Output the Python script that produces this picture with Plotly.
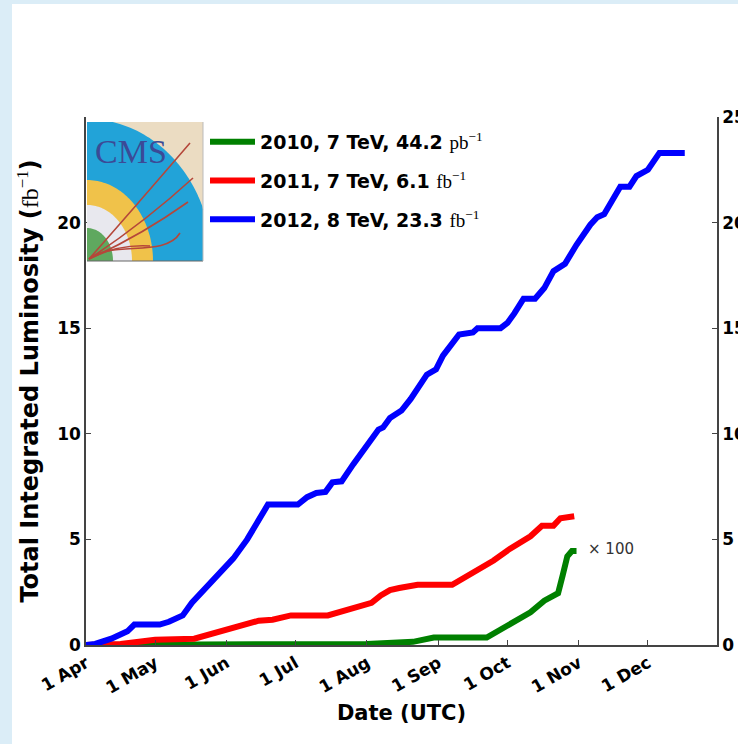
import math
import plotly.graph_objects as go

# ---------------- data ----------------
dates_2012 = ["2012-04-01", "2012-04-05", "2012-04-12", "2012-04-17", "2012-04-19", "2012-04-22",
              "2012-05-03", "2012-05-07", "2012-05-11", "2012-05-13", "2012-05-17", "2012-05-23",
              "2012-05-29", "2012-06-04", "2012-06-10", "2012-06-15", "2012-06-19", "2012-07-02",
              "2012-07-06", "2012-07-10", "2012-07-14", "2012-07-17", "2012-07-21", "2012-07-26",
              "2012-08-01", "2012-08-06", "2012-08-08", "2012-08-11", "2012-08-16", "2012-08-20",
              "2012-08-27", "2012-08-31", "2012-09-03", "2012-09-10", "2012-09-16", "2012-09-18",
              "2012-09-28", "2012-10-01", "2012-10-04", "2012-10-08", "2012-10-13", "2012-10-17",
              "2012-10-21", "2012-10-26", "2012-10-31", "2012-11-06", "2012-11-09", "2012-11-12",
              "2012-11-19", "2012-11-23", "2012-11-26", "2012-12-01", "2012-12-06", "2012-12-17"]
lumi_2012 = [0.0, 0.05, 0.3, 0.6, 0.65, 0.97,
             0.97, 1.1, 1.3, 1.4, 2.0, 2.7,
             3.4, 4.1, 5.0, 5.9, 6.65, 6.65,
             7.0, 7.2, 7.25, 7.7, 7.75, 8.55,
             9.5, 10.2, 10.3, 10.75, 11.1, 11.65,
             12.8, 13.05, 13.7, 14.7, 14.8, 15.0,
             15.0, 15.25, 15.7, 16.4, 16.4, 16.9,
             17.7, 18.05, 18.95, 19.9, 20.25, 20.4,
             21.7, 21.7, 22.2, 22.5, 23.3, 23.3]

dates_2011 = ["2012-04-01", "2012-04-16", "2012-04-24", "2012-05-01", "2012-05-18", "2012-05-23",
              "2012-06-01", "2012-06-08", "2012-06-15", "2012-06-21", "2012-06-29", "2012-07-15",
              "2012-07-20", "2012-07-29", "2012-08-03", "2012-08-07", "2012-08-11", "2012-08-15",
              "2012-08-23", "2012-09-07", "2012-09-12", "2012-09-16", "2012-09-22", "2012-09-25",
              "2012-10-02", "2012-10-06", "2012-10-11", "2012-10-16", "2012-10-21", "2012-10-24",
              "2012-10-30"]
lumi_2011 = [0.0, 0.05, 0.15, 0.25, 0.3, 0.45,
             0.7, 0.9, 1.15, 1.2, 1.4, 1.4,
             1.55, 1.85, 2.0, 2.35, 2.6, 2.7,
             2.85, 2.85, 3.15, 3.45, 3.75, 4.0,
             4.55, 4.8, 5.15, 5.65, 5.65, 6.0,
             6.1]

# 2010 curve is drawn multiplied by 100 (fb^-1 x 100)
dates_2010 = ["2012-04-01", "2012-07-16", "2012-08-01", "2012-08-21", "2012-08-30", "2012-09-22",
              "2012-09-26", "2012-10-01", "2012-10-05", "2012-10-11", "2012-10-17", "2012-10-23",
              "2012-10-25", "2012-10-27", "2012-10-29", "2012-10-31"]
lumi_2010_x100 = [0.0, 0.0, 0.05, 0.15, 0.35, 0.35,
                  0.6, 0.85, 1.15, 1.55, 2.1, 2.45,
                  3.3, 4.2, 4.45, 4.45]

SERIF_SPAN = "<span style=\"font-family:'Liberation Serif',serif;font-weight:normal\">{}</span>"
series_names = ["2010, 7 TeV, 44.2 " + SERIF_SPAN.format("pb<sup>\u22121</sup>"),
                "2011, 7 TeV, 6.1 " + SERIF_SPAN.format("fb<sup>\u22121</sup>"),
                "2012, 8 TeV, 23.3 " + SERIF_SPAN.format("fb<sup>\u22121</sup>")]
series_colors = ["#008000", "#ff0000", "#0000ff"]

month_ticks = ["2012-04-01", "2012-05-01", "2012-06-01", "2012-07-01", "2012-08-01",
               "2012-09-01", "2012-10-01", "2012-11-01", "2012-12-01"]
month_labels = ["1 Apr", "1 May", "1 Jun", "1 Jul", "1 Aug", "1 Sep", "1 Oct", "1 Nov", "1 Dec"]
left_ticks = [0, 5, 10, 15, 20]
right_ticks = [0, 5, 10, 15, 20, 25]

# ---------------- layout geometry ----------------
W, H = 738, 744
L, R, T, B = 86, 21, 117, 99
PW, PH = W - L - R, H - T - B


def px(x):
    return (x - L) / PW


def py(y):
    return (T + PH - y) / PH


FONT = "DejaVu Sans, Verdana, sans-serif"

fig = go.Figure()
for d, v, name, col, grp in zip([dates_2010, dates_2011, dates_2012],
                                [lumi_2010_x100, lumi_2011, lumi_2012],
                                series_names, series_colors, ["a", "b", "c"]):
    fig.add_trace(go.Scatter(x=d, y=v, mode="lines", name=name, legendgroup=grp,
                             line=dict(color=col, width=6), hoverinfo="skip"))

axis_common = dict(showline=True, linecolor="#444", linewidth=1.5, ticks="inside",
                   ticklen=5, tickcolor="#444", showgrid=False, zeroline=False,
                   automargin=False,
                   tickfont=dict(family=FONT, size=17, color="black", weight="bold"))

fig.update_layout(
    width=W, height=H,
    margin=dict(l=L, r=R, t=T, b=B, pad=0, autoexpand=False),
    paper_bgcolor="white", plot_bgcolor="white",
    font=dict(family=FONT, color="black"),
    showlegend=True,
    legend=dict(x=px(205), y=py(123), xanchor="left", yanchor="top",
                bgcolor="rgba(0,0,0,0)", borderwidth=0, tracegroupgap=11,
                traceorder="grouped", itemwidth=45,
                font=dict(family=FONT, size=19, color="black", weight="bold")),
    xaxis=dict(axis_common, type="date", range=["2012-04-01", "2012-12-31"],
               tickvals=month_ticks, ticktext=month_labels, tickangle=-30,
               title=dict(text="Date (UTC)", standoff=8,
                          font=dict(family=FONT, size=21, weight="bold"))),
    yaxis=dict(axis_common, range=[0, 25], tickvals=left_ticks,
               title=dict(text="Total Integrated Luminosity (" + SERIF_SPAN.format("fb<sup>\u22121</sup>") + ")",
                          standoff=12, font=dict(family=FONT, size=24, weight="bold"))),
    yaxis2=dict(axis_common, range=[0, 25], tickvals=right_ticks, overlaying="y",
                side="right", anchor="x"),
)
fig.add_trace(go.Scatter(x=dates_2012, y=lumi_2012, yaxis="y2", mode="lines",
                         line=dict(color="rgba(0,0,0,0)", width=0), showlegend=False,
                         hoverinfo="skip"))

shapes = []
# page frame (light blue strips)
blue_bg = "#dbedf7"
shapes.append(dict(type="rect", xref="paper", yref="paper", x0=px(0), x1=px(12), y0=py(H), y1=py(0),
                   fillcolor=blue_bg, line=dict(width=0), layer="above"))
shapes.append(dict(type="rect", xref="paper", yref="paper", x0=px(0), x1=px(W), y0=py(4), y1=py(0),
                   fillcolor=blue_bg, line=dict(width=0), layer="above"))

# CMS logo drawn with shapes
bx0, bx1, by0, by1 = 87, 203, 122, 261
cx, cy = 87, 261
shapes.append(dict(type="rect", xref="paper", yref="paper", x0=px(bx0), x1=px(bx1), y0=py(by1), y1=py(by0),
                   fillcolor="#ebdcc2", line=dict(width=0), layer="above"))


def sector(rx, ry, color):
    pts = [(cx, cy)]
    n = 60
    for i in range(n + 1):
        t = math.pi / 2 * i / n
        ct, st = math.cos(t), math.sin(t)
        r_e = 1.0 / math.sqrt((ct / rx) ** 2 + (st / ry) ** 2)
        r_b = min((bx1 - cx) / ct if ct > 1e-9 else 1e9, (cy - by0) / st if st > 1e-9 else 1e9)
        r = min(r_e, r_b)
        pts.append((cx + r * ct, cy - r * st))
    path = "M " + " L ".join(f"{px(a):.5f},{py(b):.5f}" for a, b in pts) + " Z"
    return dict(type="path", xref="paper", yref="paper", path=path, fillcolor=color,
                line=dict(width=0), layer="above")


shapes.append(sector(125, 142, "#22a3d8"))
shapes.append(sector(66, 81, "#f0c24a"))
shapes.append(sector(45, 56, "#e8e8ee"))
shapes.append(sector(26, 33, "#5fa85f"))


def bez(pts_px, cmd):
    p = [f"{px(a):.5f},{py(b):.5f}" for a, b in pts_px]
    return f"M {p[0]} {cmd} " + " ".join(p[1:])


curves = [bez([(89, 259), (128, 215), (190, 143)], "Q"),
          bez([(89, 259), (145, 222), (193, 178)], "Q"),
          bez([(89, 259), (140, 236), (188, 202)], "Q"),
          bez([(89, 259), (112, 240), (165, 258), (180, 233)], "C"),
          bez([(89, 259), (118, 244), (150, 246)], "Q")]
for c in curves:
    shapes.append(dict(type="path", xref="paper", yref="paper", path=c,
                       line=dict(color="#b5473a", width=1.6), layer="above"))
shapes.append(dict(type="line", xref="paper", yref="paper", x0=px(bx0), x1=px(bx1), y0=py(by1), y1=py(by1),
                   line=dict(color="#666", width=1), layer="above"))
shapes.append(dict(type="line", xref="paper", yref="paper", x0=px(bx1), x1=px(bx1), y0=py(by1), y1=py(by0),
                   line=dict(color="#bbb", width=1), layer="above"))
fig.update_layout(shapes=shapes)

fig.add_annotation(x=px(131), y=py(151), xref="paper", yref="paper", text="CMS", showarrow=False,
                   xanchor="center", yanchor="middle",
                   font=dict(family="Liberation Serif, serif", size=34, color="#3b4a96"))
fig.add_annotation(x="2012-11-04", y=4.55, xref="x", yref="y", text="\u00d7 100", showarrow=False,
                   xanchor="left", yanchor="middle",
                   font=dict(family="DejaVu Sans, sans-serif", size=15, color="#333"))

fig.write_html("out.html", config={"displayModeBar": False},
               post_script="document.body.style.margin='0';document.body.style.overflow='hidden';")
